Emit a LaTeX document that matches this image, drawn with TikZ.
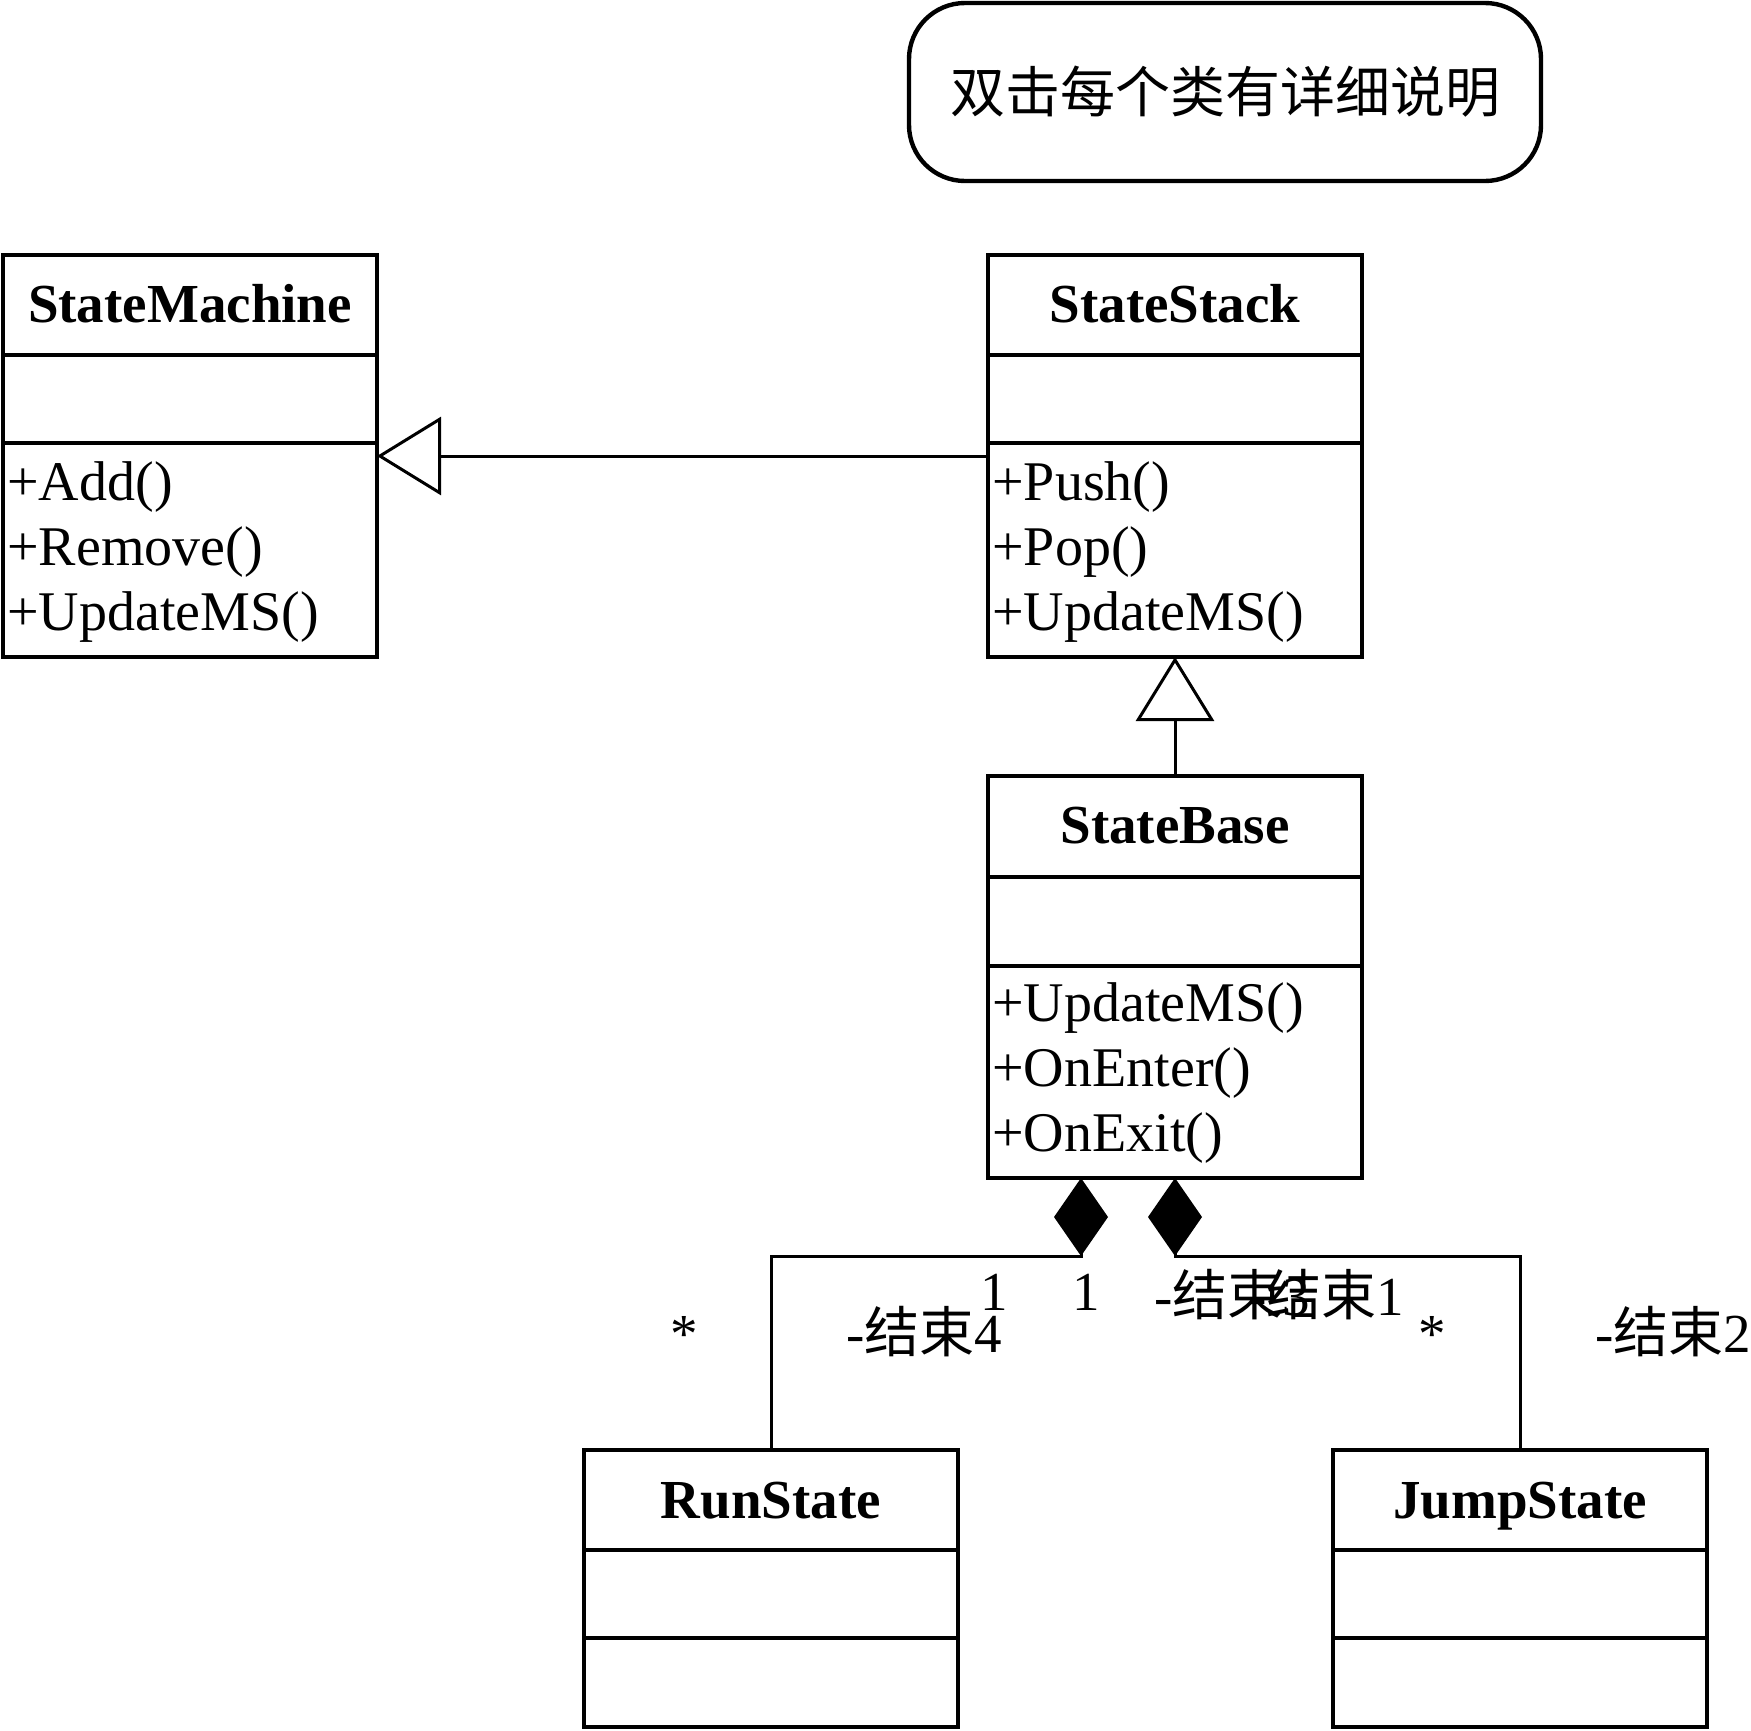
\documentclass[tikz,border=0pt]{standalone}
\usepackage{fontspec}
\setmainfont{Liberation Serif}
\newfontfamily\cjk{Noto Sans CJK SC}
\usetikzlibrary{arrows.meta}
\begin{document}
\begin{tikzpicture}[x=0.5pt, y=-0.5pt,
  box/.style={draw, line width=2.2pt, inner sep=0pt, outer sep=0pt, minimum width=187pt},
  divider/.style={line width=2.2pt},
  ctitle/.style={font=\fontsize{27.5pt}{33pt}\selectfont\bfseries, inner sep=0pt, anchor=base},
  member/.style={font=\fontsize{28pt}{33pt}\selectfont, inner sep=0pt, anchor=base west},
  lbl/.style={font=\fontsize{27.5pt}{33pt}\selectfont, inner sep=0pt},
  conn/.style={line width=1.5pt},
  gen/.style={conn, -{Triangle[open, length=32pt, width=39pt]}},
  comp/.style={conn, -{Diamond[length=39pt, width=27pt]}},
]
\useasboundingbox (0,0) rectangle (1751,1730);

% note
\node[draw, line width=2.2pt, rounded corners=28pt, minimum width=316pt, minimum height=89pt, inner sep=0pt,
      font=\fontsize{27.5pt}{33pt}\selectfont\cjk] (note) at (1225,92) {双击每个类有详细说明};

% StateMachine
\node[box, minimum height=201pt] (sm) at (190,456) {};
\draw[divider] (3,355) -- (377,355);
\draw[divider] (3,443) -- (377,443);
\node[ctitle] (smt) at (190,322) {StateMachine};
\node[member] (sm1) at (7,500) {+Add()};
\node[member] (sm2) at (7,565) {+Remove()};
\node[member] (sm3) at (7,630) {+UpdateMS()};

% StateStack
\node[box, minimum height=201pt] (ss) at (1175,456) {};
\draw[divider] (988,355) -- (1362,355);
\draw[divider] (988,443) -- (1362,443);
\node[ctitle] (sst) at (1175,322) {StateStack};
\node[member] (ss1) at (992,500) {+Push()};
\node[member] (ss2) at (992,565) {+Pop()};
\node[member] (ss3) at (992,630) {+UpdateMS()};

% StateBase
\node[box, minimum height=201pt] (sb) at (1175,977) {};
\draw[divider] (988,877) -- (1362,877);
\draw[divider] (988,966) -- (1362,966);
\node[ctitle] (sbt) at (1175,843) {StateBase};
\node[member] (sb1) at (992,1021) {+UpdateMS()};
\node[member] (sb2) at (992,1086) {+OnEnter()};
\node[member] (sb3) at (992,1151) {+OnExit()};

% RunState
\node[box, minimum height=138.5pt] (rs) at (771,1588.5) {};
\draw[divider] (584,1550) -- (958,1550);
\draw[divider] (584,1638) -- (958,1638);
\node[ctitle] (rst) at (771,1518) {RunState};

% JumpState
\node[box, minimum height=138.5pt] (js) at (1520,1588.5) {};
\draw[divider] (1333,1550) -- (1707,1550);
\draw[divider] (1333,1638) -- (1707,1638);
\node[ctitle] (jst) at (1520,1518) {JumpState};

% generalizations
\draw[gen] (ss.west) -- (sm.east);
\draw[gen] (sb.north) -- (ss.south);

% compositions
\coordinate (d1) at ([xshift=-47pt]sb.south);
\coordinate (d2) at (sb.south);
\draw[comp] (rs.north) -- ++(0,-194) -| (d1);
\draw[comp] (js.north) -- ++(0,-194) -| (d2);

% role / multiplicity labels
\node[lbl, anchor=base] (m1) at (994,1310) {1};
\node[lbl, anchor=base] (m2) at (1086,1310) {1};
\node[lbl, anchor=base west] (r3) at (1154,1315) {-{\cjk 结束}3};
\node[lbl, anchor=base west] (r1) at (1248,1315) {-{\cjk 结束}1};
\node[lbl, anchor=base] (s1) at (684,1352) {*};
\node[lbl, anchor=base west] (r4) at (846,1352) {-{\cjk 结束}4};
\node[lbl, anchor=base] (s2) at (1432,1352) {*};
\node[lbl, anchor=base west] (r2) at (1595,1352) {-{\cjk 结束}2};
\end{tikzpicture}
\end{document}
